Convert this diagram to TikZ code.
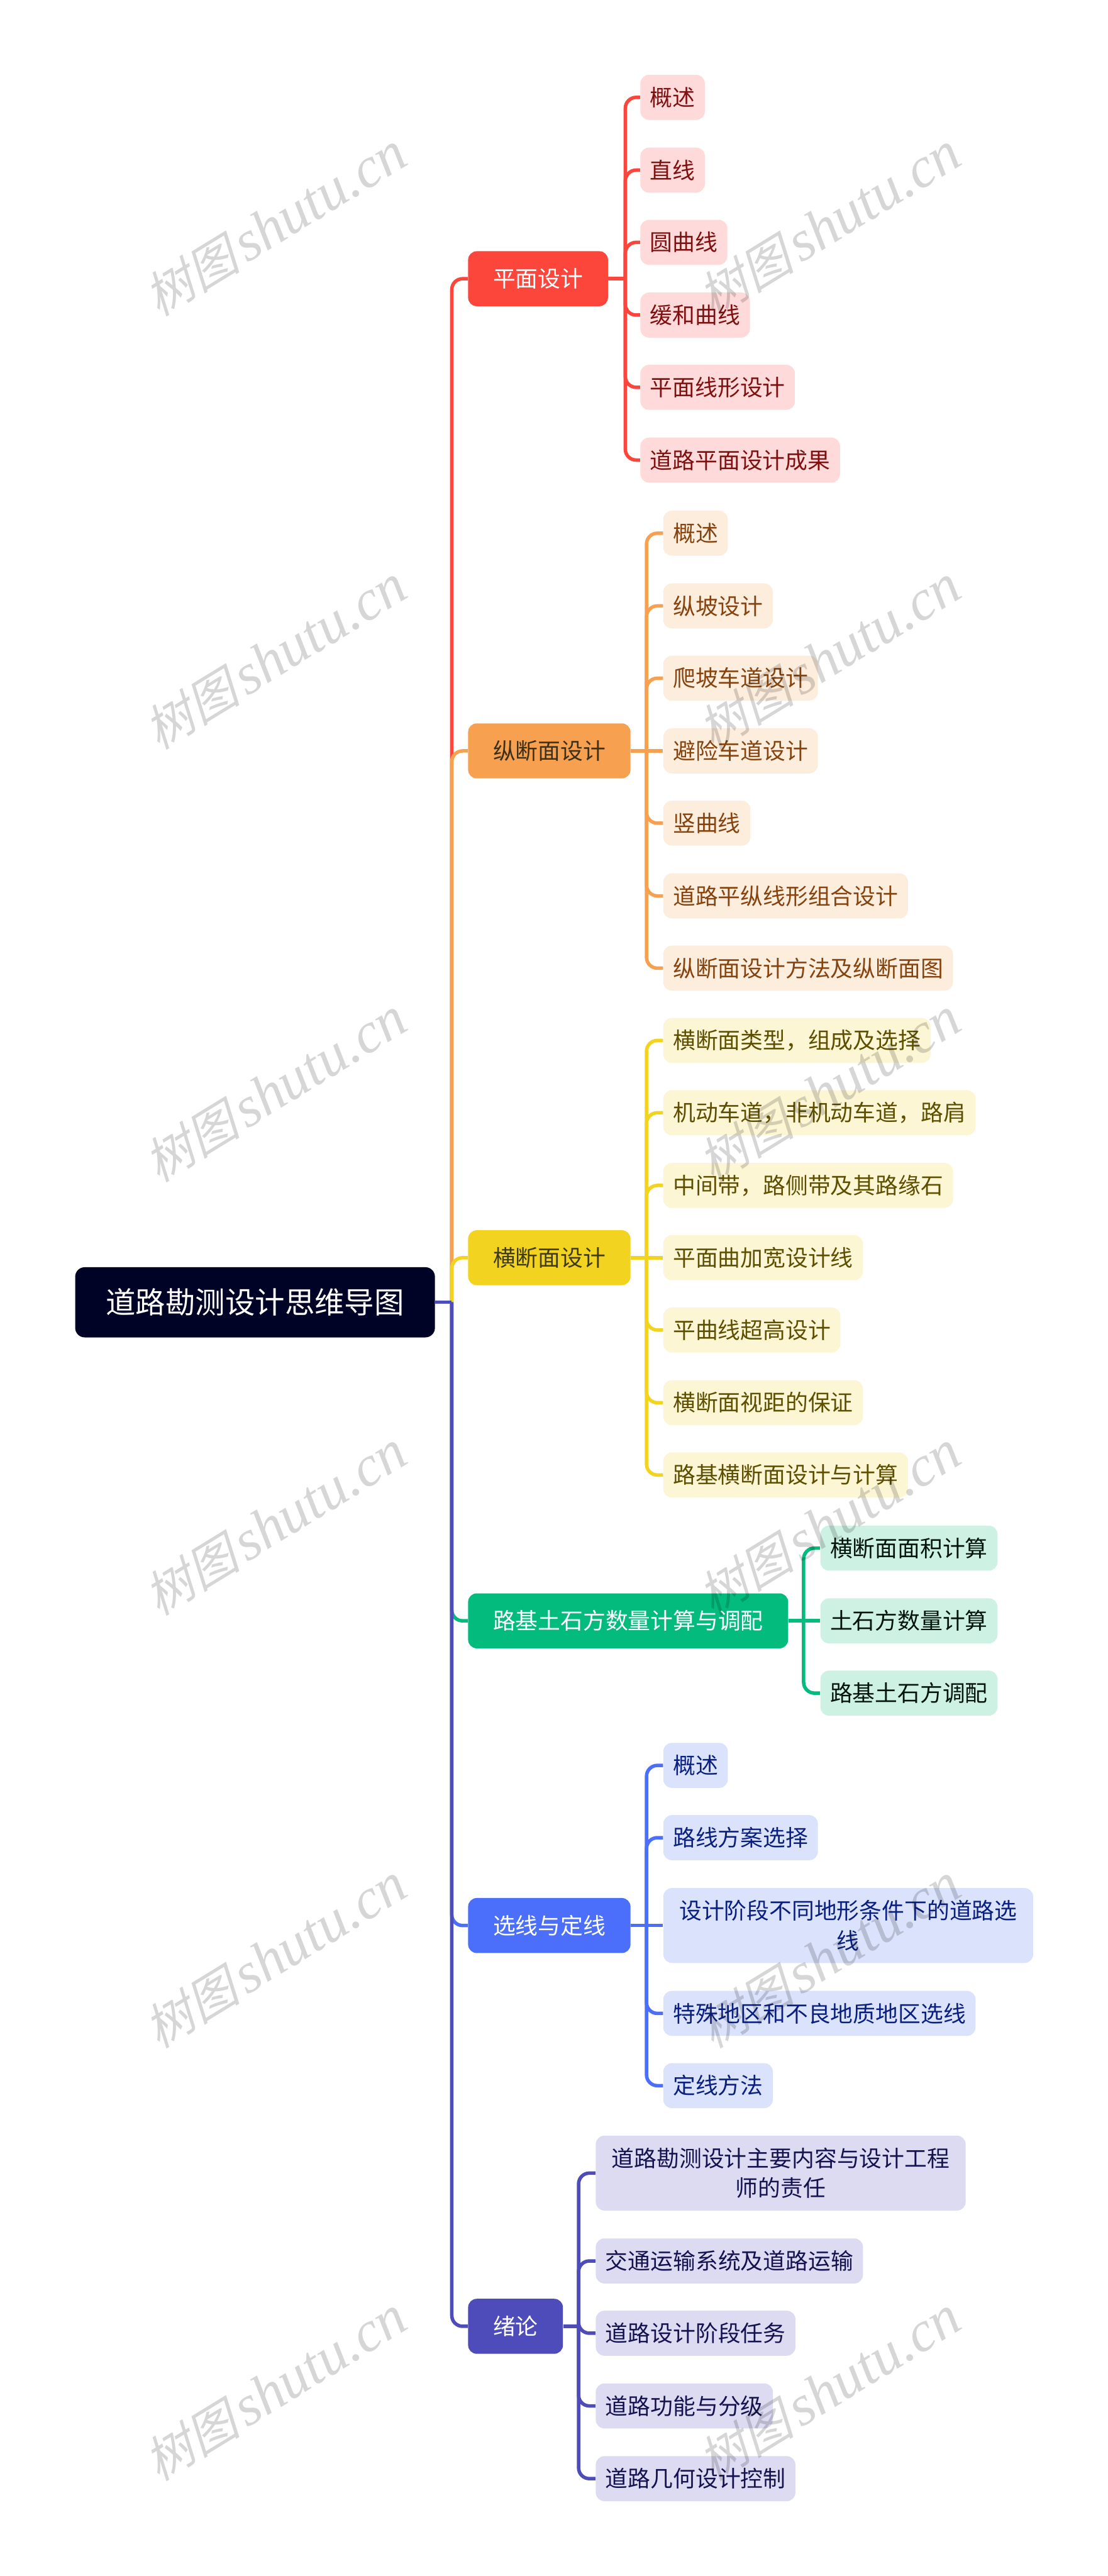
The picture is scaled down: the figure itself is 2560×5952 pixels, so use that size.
\documentclass[tikz,border=0pt]{standalone}
\usepackage{fontspec}
\usepackage{xcolor}
\setmainfont{Noto Sans CJK SC}
\newfontfamily\wmcjk[FakeSlant=0.25]{Noto Sans CJK SC}
\newfontfamily\wmlatin{Liberation Serif}

\definecolor{rootfill}{HTML}{010326}
\definecolor{planmain}{HTML}{FC453B}
\definecolor{planlight}{HTML}{FFDADA}
\definecolor{plantext}{HTML}{7F1010}
\definecolor{zongmain}{HTML}{F7A04F}
\definecolor{zonglight}{HTML}{FDEDDD}
\definecolor{zongtext}{HTML}{85430F}
\definecolor{zongdark}{HTML}{3D3018}
\definecolor{hengmain}{HTML}{F1D320}
\definecolor{henglight}{HTML}{FCF6D5}
\definecolor{hengtext}{HTML}{5E4F00}
\definecolor{hengdark}{HTML}{3F3A14}
\definecolor{tumain}{HTML}{02BB7D}
\definecolor{tulight}{HTML}{CDF1E3}
\definecolor{tutext}{HTML}{03140E}
\definecolor{xuanmain}{HTML}{4B6EFB}
\definecolor{xuanlight}{HTML}{DAE2FC}
\definecolor{xuantext}{HTML}{0A2080}
\definecolor{xumain}{HTML}{4E4BBA}
\definecolor{xulight}{HTML}{DCDBF1}
\definecolor{xutext}{HTML}{14134F}

\tikzset{
    rootnode/.style={rectangle,fill=rootfill,text=white,rounded corners=0.22cm,minimum height=1.62cm,inner xsep=0.71cm,inner ysep=0,text height=0.6cm,text depth=0.076cm,anchor=west,font=\fontsize{19.6pt}{26pt}\selectfont},
    mainnode/.style={rectangle,rounded corners=0.2cm,minimum height=1.27cm,inner xsep=0.575cm,inner ysep=0,text height=0.46cm,text depth=0.065cm,anchor=west,font=\fontsize{14.8pt}{19.6pt}\selectfont},
    subnode/.style={rectangle,rounded corners=0.2cm,minimum height=1.04cm,inner xsep=0.225cm,inner ysep=0,text height=0.46cm,text depth=0.065cm,anchor=west,font=\fontsize{14.8pt}{19.6pt}\selectfont},
    plansub/.style={subnode,fill=planlight,text=plantext},
    zongsub/.style={subnode,fill=zonglight,text=zongtext},
    hengsub/.style={subnode,fill=henglight,text=hengtext},
    tusub/.style={subnode,fill=tulight,text=tutext},
    xuansub/.style={subnode,fill=xuanlight,text=xuantext},
    xusub/.style={subnode,fill=xulight,text=xutext},
    wideline/.style={inner xsep=0.37cm,minimum height=1.73cm,text height={},text depth={},align=center},
    link/.style={line width=0.08cm,rounded corners=0.25cm},
    watermark/.style={text=black,opacity=0.16,rotate=31.5}
}

\newcommand{\markword}{{\fontsize{32pt}{38pt}\selectfont\wmcjk 树图}\hspace{0.14cm}{\fontsize{37.5pt}{38pt}\selectfont\wmlatin\itshape shutu.cn}}

\begin{document}
\begin{tikzpicture}[x=0.01cm,y=-0.01cm]
            \fill[white] (0, 0) rectangle (2560, 5952);
            \useasboundingbox (0, 0) rectangle (2560, 5952);

            \node[rootnode] (root) at (173, 3009) {道路勘测设计思维导图};
            \coordinate (hub) at (1044, 3009);

            \node[mainnode,fill=planmain,text=white] (plan) at (1081, 644) {平面设计};
            \node[mainnode,fill=zongmain,text=zongdark] (zong) at (1081, 1735) {纵断面设计};
            \node[mainnode,fill=hengmain,text=hengdark] (heng) at (1081, 2906) {横断面设计};
            \node[mainnode,fill=tumain,text=white] (tu) at (1081, 3745) {路基土石方数量计算与调配};
            \node[mainnode,fill=xuanmain,text=white] (xuan) at (1081, 4449) {选线与定线};
            \node[mainnode,fill=xumain,text=white] (xu) at (1081, 5375) {绪论};

            \coordinate (planhub) at (1445, 644);
            \coordinate (zonghub) at (1494, 1735);
            \coordinate (henghub) at (1494, 2906);
            \coordinate (tuhub) at (1857, 3745);
            \coordinate (xuanhub) at (1494, 4449);
            \coordinate (xuhub) at (1337, 5375);

            \node[plansub] (plana) at (1479, 225) {概述};
            \node[plansub] (planb) at (1479, 393) {直线};
            \node[plansub] (planc) at (1479, 560) {圆曲线};
            \node[plansub] (pland) at (1479, 728) {缓和曲线};
            \node[plansub] (plane) at (1479, 895) {平面线形设计};
            \node[plansub] (planf) at (1479, 1063) {道路平面设计成果};

            \node[zongsub] (zonga) at (1532, 1232) {概述};
            \node[zongsub] (zongb) at (1532, 1400) {纵坡设计};
            \node[zongsub] (zongc) at (1532, 1567) {爬坡车道设计};
            \node[zongsub] (zongd) at (1532, 1735) {避险车道设计};
            \node[zongsub] (zonge) at (1532, 1902) {竖曲线};
            \node[zongsub] (zongf) at (1532, 2070) {道路平纵线形组合设计};
            \node[zongsub] (zongg) at (1532, 2237) {纵断面设计方法及纵断面图};

            \node[hengsub] (henga) at (1532, 2404) {横断面类型，组成及选择};
            \node[hengsub] (hengb) at (1532, 2571) {机动车道，非机动车道，路肩};
            \node[hengsub] (hengc) at (1532, 2739) {中间带，路侧带及其路缘石};
            \node[hengsub] (hengd) at (1532, 2906) {平面曲加宽设计线};
            \node[hengsub] (henge) at (1532, 3073) {平曲线超高设计};
            \node[hengsub] (hengf) at (1532, 3241) {横断面视距的保证};
            \node[hengsub] (hengg) at (1532, 3408) {路基横断面设计与计算};

            \node[tusub] (tua) at (1895, 3577) {横断面面积计算};
            \node[tusub] (tub) at (1895, 3745) {土石方数量计算};
            \node[tusub] (tuc) at (1895, 3912) {路基土石方调配};

            \node[xuansub] (xuana) at (1532, 4079) {概述};
            \node[xuansub] (xuanb) at (1532, 4246) {路线方案选择};
            \node[xuansub,wideline] (xuanc) at (1532, 4449) {设计阶段不同地形条件下的道路选\\线};
            \node[xuansub] (xuand) at (1532, 4652) {特殊地区和不良地质地区选线};
            \node[xuansub] (xuane) at (1532, 4819) {定线方法};

            \node[xusub,wideline] (xua) at (1376, 5021) {道路勘测设计主要内容与设计工程\\师的责任};
            \node[xusub] (xub) at (1376, 5224) {交通运输系统及道路运输};
            \node[xusub] (xuc) at (1376, 5391) {道路设计阶段任务};
            \node[xusub] (xud) at (1376, 5559) {道路功能与分级};
            \node[xusub] (xue) at (1376, 5727) {道路几何设计控制};

            \draw [link,planmain] (plan.east) -- (planhub);
            \draw [link,planmain] (planhub) |- (plana.west);
            \draw [link,planmain] (planhub) |- (planb.west);
            \draw [link,planmain] (planhub) |- (planc.west);
            \draw [link,planmain] (planhub) |- (pland.west);
            \draw [link,planmain] (planhub) |- (plane.west);
            \draw [link,planmain] (planhub) |- (planf.west);

            \draw [link,zongmain] (zong.east) -- (zonghub);
            \draw [link,zongmain] (zonghub) |- (zonga.west);
            \draw [link,zongmain] (zonghub) |- (zongb.west);
            \draw [link,zongmain] (zonghub) |- (zongc.west);
            \draw [link,zongmain] (zonghub) -- (zongd.west);
            \draw [link,zongmain] (zonghub) |- (zonge.west);
            \draw [link,zongmain] (zonghub) |- (zongf.west);
            \draw [link,zongmain] (zonghub) |- (zongg.west);

            \draw [link,hengmain] (heng.east) -- (henghub);
            \draw [link,hengmain] (henghub) |- (henga.west);
            \draw [link,hengmain] (henghub) |- (hengb.west);
            \draw [link,hengmain] (henghub) |- (hengc.west);
            \draw [link,hengmain] (henghub) -- (hengd.west);
            \draw [link,hengmain] (henghub) |- (henge.west);
            \draw [link,hengmain] (henghub) |- (hengf.west);
            \draw [link,hengmain] (henghub) |- (hengg.west);

            \draw [link,tumain] (tu.east) -- (tuhub);
            \draw [link,tumain] (tuhub) |- (tua.west);
            \draw [link,tumain] (tuhub) -- (tub.west);
            \draw [link,tumain] (tuhub) |- (tuc.west);

            \draw [link,xuanmain] (xuan.east) -- (xuanhub);
            \draw [link,xuanmain] (xuanhub) |- (xuana.west);
            \draw [link,xuanmain] (xuanhub) |- (xuanb.west);
            \draw [link,xuanmain] (xuanhub) -- (xuanc.west);
            \draw [link,xuanmain] (xuanhub) |- (xuand.west);
            \draw [link,xuanmain] (xuanhub) |- (xuane.west);

            \draw [link,xumain] (xu.east) -- (xuhub);
            \draw [link,xumain] (xuhub) |- (xua.west);
            \draw [link,xumain] (xuhub) |- (xub.west);
            \draw [link,xumain] (xuhub) |- (xuc.west);
            \draw [link,xumain] (xuhub) |- (xud.west);
            \draw [link,xumain] (xuhub) |- (xue.west);

            \draw [link,planmain] (hub) |- (plan.west);
            \draw [link,zongmain] (hub) |- (zong.west);
            \draw [link,hengmain] (hub) |- (heng.west);
            \draw [link,tumain] (hub) |- (tu.west);
            \draw [link,xuanmain] (hub) |- (xuan.west);
            \draw [link,xumain] (hub) |- (xu.west);
            \draw [link,xumain] (root.east) -- (hub);

            \node[watermark] (marka) at (636, 519) {\markword};
            \node[watermark] (markb) at (1916, 519) {\markword};
            \node[watermark] (markc) at (636, 1519) {\markword};
            \node[watermark] (markd) at (1916, 1519) {\markword};
            \node[watermark] (marke) at (636, 2519) {\markword};
            \node[watermark] (markf) at (1916, 2519) {\markword};
            \node[watermark] (markg) at (636, 3520) {\markword};
            \node[watermark] (markh) at (1916, 3520) {\markword};
            \node[watermark] (marki) at (636, 4520) {\markword};
            \node[watermark] (markj) at (1916, 4520) {\markword};
            \node[watermark] (markk) at (636, 5520) {\markword};
            \node[watermark] (markl) at (1916, 5520) {\markword};
        \end{tikzpicture}
\end{document}
